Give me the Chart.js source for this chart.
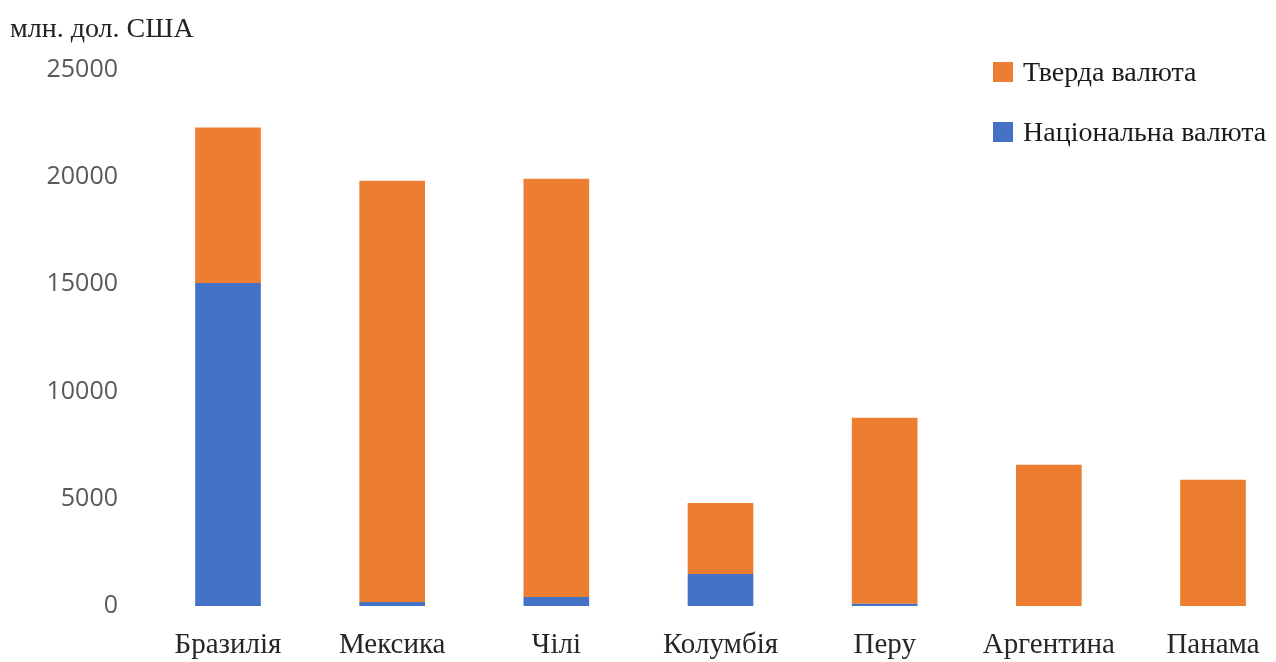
<!DOCTYPE html>
<html>
<head>
<meta charset="utf-8">
<script src="https://cdn.jsdelivr.net/npm/chart.js@4"></script>
<style>
  body { margin: 0; background: #fff; }
  #wrap { position: relative; width: 1276px; height: 662px; }
  #legend { position: absolute; left: 993px; top: 55px; font-family: "Liberation Serif", serif; font-size: 28px; color: #1a1a1a; }
  #legend div { display: flex; align-items: center; height: 34px; margin-bottom: 26px; }
  #legend span.box { display: inline-block; width: 20px; height: 20px; margin-right: 10px; }
</style>
</head>
<body>
<div id="wrap">
  <canvas id="myChart" width="1276" height="662"></canvas>
  <div id="legend"></div>
</div>
<script>
const categories = ['Бразилія', 'Мексика', 'Чілі', 'Колумбія', 'Перу', 'Аргентина', 'Панама'];
const nationalValues = [15050, 190, 420, 1490, 100, 0, 0];
const hardValues = [7250, 19630, 19490, 3310, 8670, 6580, 5880];
const yTicks = [0, 5000, 10000, 15000, 20000, 25000];
const unitLabel = 'млн. дол. США';

const blue = '#4472C4';
const orange = '#ED7D31';

const ctx = document.getElementById('myChart').getContext('2d');

const myChart = new Chart(ctx, {
    type: 'bar',
    data: {
        labels: categories,
        datasets: [{
            label: 'Національна валюта',
            data: nationalValues,
            backgroundColor: blue,
            clip: false
        }, {
            label: 'Тверда валюта',
            data: hardValues,
            backgroundColor: orange,
            clip: false
        }]
    },
    options: {
        responsive: false,
        animation: false,
        barPercentage: 0.4,
        categoryPercentage: 1,
        layout: { padding: { left: 10, right: 63, top: 0, bottom: 0 } },
        plugins: {
            legend: { display: false },
            tooltip: { enabled: false },
            title: {
                display: true,
                text: unitLabel,
                align: 'start',
                color: '#222',
                font: { family: 'Liberation Serif', size: 28, weight: 'normal' },
                padding: { top: 13, bottom: 23 }
            }
        },
        scales: {
            x: {
                stacked: true,
                offset: false,
                grid: { display: false, drawTicks: false },
                border: { display: false },
                ticks: {
                    color: '#262626',
                    padding: 22,
                    maxRotation: 0,
                    font: { family: 'Liberation Serif', size: 29 }
                },
                afterFit: (scale) => {
                    scale.height = 56;
                    scale.paddingLeft = 0;
                    scale.paddingRight = 0;
                }
            },
            y: {
                stacked: true,
                min: yTicks[0],
                max: yTicks[yTicks.length - 1],
                grid: { display: false, drawTicks: false },
                border: { display: false },
                afterBuildTicks: (scale) => { scale.ticks = yTicks.map(v => ({ value: v })); },
                ticks: {
                    color: '#595959',
                    padding: 110,
                    font: { family: 'Open Sans', size: 25 },
                    callback: (v) => String(v)
                },
                afterFit: (scale) => {
                    // wide gap between labels and bars, but no extra vertical padding
                    scale.width = 218;
                    scale.paddingTop = 0;
                    scale.paddingBottom = 0;
                }
            }
        }
    }
});

// legend as html, top entry is the upper stack
const legend = document.getElementById('legend');
myChart.data.datasets.slice().reverse().forEach(ds => {
    const row = document.createElement('div');
    const box = document.createElement('span');
    box.className = 'box';
    box.style.background = ds.backgroundColor;
    row.appendChild(box);
    row.appendChild(document.createTextNode(ds.label));
    legend.appendChild(row);
});
</script>
</body>
</html>
